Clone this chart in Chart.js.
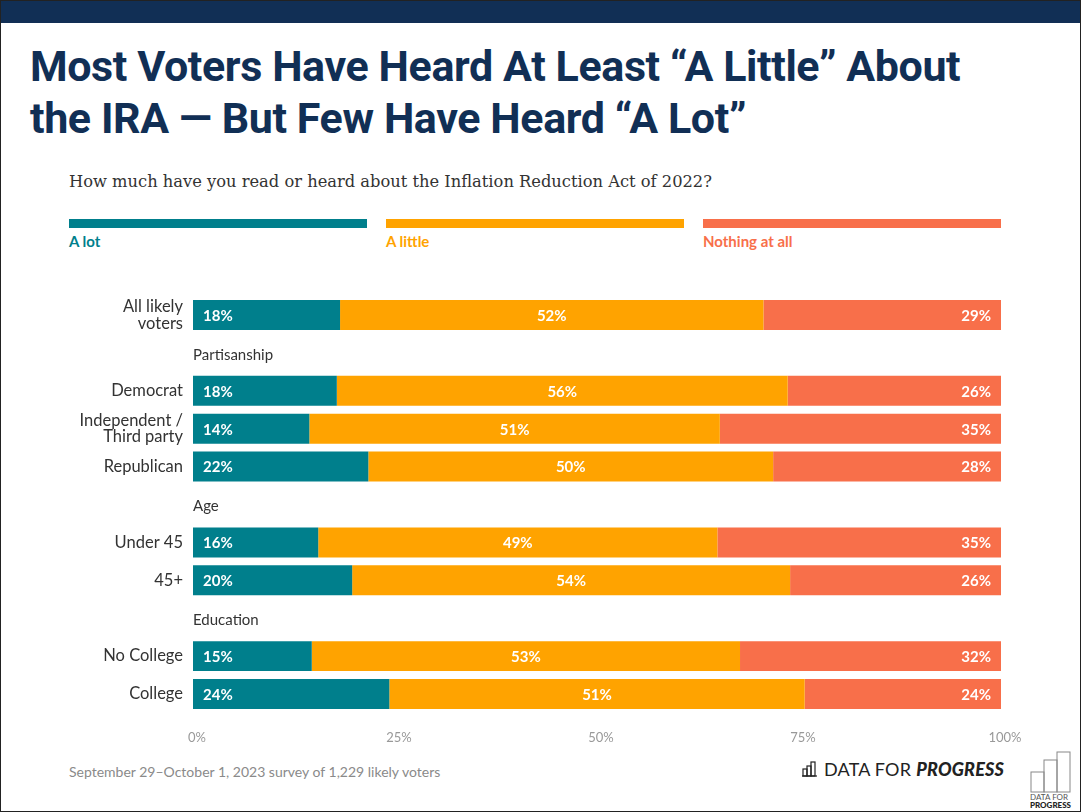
<!DOCTYPE html>
<html>
<head>
<meta charset="utf-8">
<script src="https://cdn.jsdelivr.net/npm/chart.js@4"></script>
<style>
  html, body { margin: 0; padding: 0; background: #fff; }
  body { width: 1081px; height: 812px; position: relative; overflow: hidden; font-family: Lato, "Open Sans", sans-serif; }
  .frame { position: absolute; left: 0; top: 0; width: 1079px; height: 810px; border: 1px solid #222; }
  .topband { position: absolute; left: 1px; top: 1px; width: 1079px; height: 22px; background: #112f55; }
  h1 { position: absolute; left: 30px; top: 40px; margin: 0; font-family: Roboto, sans-serif; font-weight: 700; font-size: 43px; line-height: 52px; color: #112f55; letter-spacing: -0.4px; }
  .sub { position: absolute; left: 69px; top: 172px; font-family: "DejaVu Serif", "Liberation Serif", serif; font-size: 16.3px; color: #333; }
  .leg { position: absolute; top: 219px; width: 298px; }
  .leg .bar { height: 9px; }
  .leg .lab { font-weight: 700; font-size: 15px; margin-top: 4px; }
  .foot { position: absolute; left: 69px; top: 763px; font-size: 14px; color: #8a8a8a; font-weight: 400; }
  .logo { position: absolute; left: 802px; top: 758px; font-size: 18px; color: #222; letter-spacing: 0.2px; display: flex; align-items: center; }
  .logo svg { margin-right: 6px; }
  .logo b { font-style: italic; font-weight: 900; margin-left: 5px; }
  .corner { position: absolute; left: 1030px; top: 750px; }
  #wrap { position: absolute; left: 0; top: 280px; width: 1081px; height: 480px; }
</style>
</head>
<body>
<div class="frame"></div>
<div class="topband"></div>
<h1>Most Voters Have Heard At Least “A Little” About<br>the IRA — But Few Have Heard “A Lot”</h1>
<div class="sub">How much have you read or heard about the Inflation Reduction Act of 2022?</div>
<div class="leg" style="left:69px"><div class="bar" style="background:#007f8c"></div><div class="lab" style="color:#007f8c">A lot</div></div>
<div class="leg" style="left:386px"><div class="bar" style="background:#ffa300"></div><div class="lab" style="color:#ffa300">A little</div></div>
<div class="leg" style="left:703px"><div class="bar" style="background:#f86f4a"></div><div class="lab" style="color:#f86f4a">Nothing at all</div></div>
<div class="foot">September 29–October 1, 2023 survey of 1,229 likely voters</div>
<div class="logo">
  <svg width="16" height="16" viewBox="0 0 16 16" fill="none" stroke="#222" stroke-width="1.2">
    <rect x="1" y="8" width="4" height="7"/><rect x="5" y="5" width="4" height="10"/><rect x="9" y="1" width="4" height="14"/><line x1="0" y1="15" x2="15" y2="15"/>
  </svg>DATA FOR<b>PROGRESS</b>
</div>
<div class="corner">
  <svg width="46" height="58" viewBox="0 0 46 58" fill="none" stroke="#888" stroke-width="1">
    <rect x="1" y="22" width="13" height="20"/><rect x="14" y="10" width="13" height="32"/><rect x="27" y="2" width="13" height="40"/>
    <text x="0" y="50" font-family="Lato" font-size="8" fill="#555" stroke="none">DATA FOR</text>
    <text x="0" y="58" font-family="Lato" font-size="8" font-weight="900" fill="#222" stroke="none">PROGRESS</text>
  </svg>
</div>
<div id="wrap"><canvas id="chart"></canvas></div>
<script>
// ------------------------------
// Data
// ------------------------------
const categories = [['All likely', 'voters'], '', 'Democrat', ['Independent /', 'Third party'], 'Republican', '', 'Under 45', '45+', '', 'No College', 'College'];
const groupRows = [1, 5, 8];
const groupNames = ['Partisanship', 'Age', 'Education'];
const seriesNames = ['A lot', 'A little', 'Nothing at all'];
const seriesColors = ['#007f8c', '#ffa300', '#f86f4a'];
const aLot     = [18.2, null, 17.8, 14.4, 21.7, null, 15.5, 19.7, null, 14.7, 24.3];
const aLittle  = [52.4, null, 55.8, 50.8, 50.1, null, 49.4, 54.2, null, 53.0, 51.4];
const nothing  = [29.4, null, 26.4, 34.8, 28.2, null, 35.1, 26.1, null, 32.3, 24.3];
const tickValues = [0, 25, 50, 75, 100];
const tickLabels = ['0%', '25%', '50%', '75%', '100%'];

// ------------------------------
// Plugin: value labels + group headers
// ------------------------------
const labelPlugin = {
  id: 'labels',
  afterDatasetsDraw(chart) {
    const ctx = chart.ctx;
    ctx.save();
    ctx.font = '700 15px Lato, sans-serif';
    ctx.fillStyle = '#fff';
    ctx.textBaseline = 'middle';
    chart.data.datasets.forEach((ds, di) => {
      chart.getDatasetMeta(di).data.forEach((bar, i) => {
        const v = ds.data[i];
        if (v == null) return;
        const txt = Math.round(v) + '%';
        if (di === 0) { ctx.textAlign = 'left'; ctx.fillText(txt, bar.base + 10, bar.y + 1); }
        else if (di === 1) { ctx.textAlign = 'center'; ctx.fillText(txt, (bar.base + bar.x) / 2, bar.y + 1); }
        else { ctx.textAlign = 'right'; ctx.fillText(txt, bar.x - 10, bar.y + 1); }
      });
    });
    // group headers
    const y = chart.scales.y;
    ctx.font = '400 15px Lato, sans-serif';
    ctx.fillStyle = '#333';
    ctx.textAlign = 'left';
    groupRows.forEach((r, k) => {
      ctx.fillText(groupNames[k], chart.chartArea.left, y.getPixelForValue(r) + 2);
    });
    ctx.restore();
  }
};

// ------------------------------
// Chart
// ------------------------------
new Chart(document.getElementById('chart'), {
  type: 'bar',
  data: {
    labels: categories,
    datasets: [aLot, aLittle, nothing].map((d, i) => ({
      label: seriesNames[i],
      data: d,
      backgroundColor: seriesColors[i],
      borderWidth: 0,
      barPercentage: 0.79,
      categoryPercentage: 1
    }))
  },
  options: {
    indexAxis: 'y',
    responsive: true,
    maintainAspectRatio: false,
    animation: false,
    layout: { padding: { top: 16, right: 80, bottom: 7, left: 0 } },
    plugins: { legend: { display: false }, tooltip: { enabled: false } },
    scales: {
      x: {
        stacked: true, min: 0, max: 100,
        grid: { display: false, drawTicks: false }, border: { display: false },
        afterBuildTicks: s => { s.ticks = tickValues.map(v => ({ value: v })); },
        afterFit: s => { s.height = 40; },
        ticks: {
          padding: 17,
          labelOffset: 4,
          color: '#999',
          font: { family: 'Lato', size: 13 },
          callback: (v) => tickLabels[tickValues.indexOf(v)]
        }
      },
      y: {
        stacked: true,
        grid: { display: false, drawTicks: false }, border: { display: false },
        afterFit: s => { s.width = 193; s.paddingTop = 0; s.paddingBottom = 0; },
        ticks: {
          autoSkip: false,
          padding: 10,
          color: '#333',
          font: { family: 'Lato', size: 16.5, lineHeight: 1.0 }
        }
      }
    }
  },
  plugins: [labelPlugin]
});
</script>
</body>
</html>
